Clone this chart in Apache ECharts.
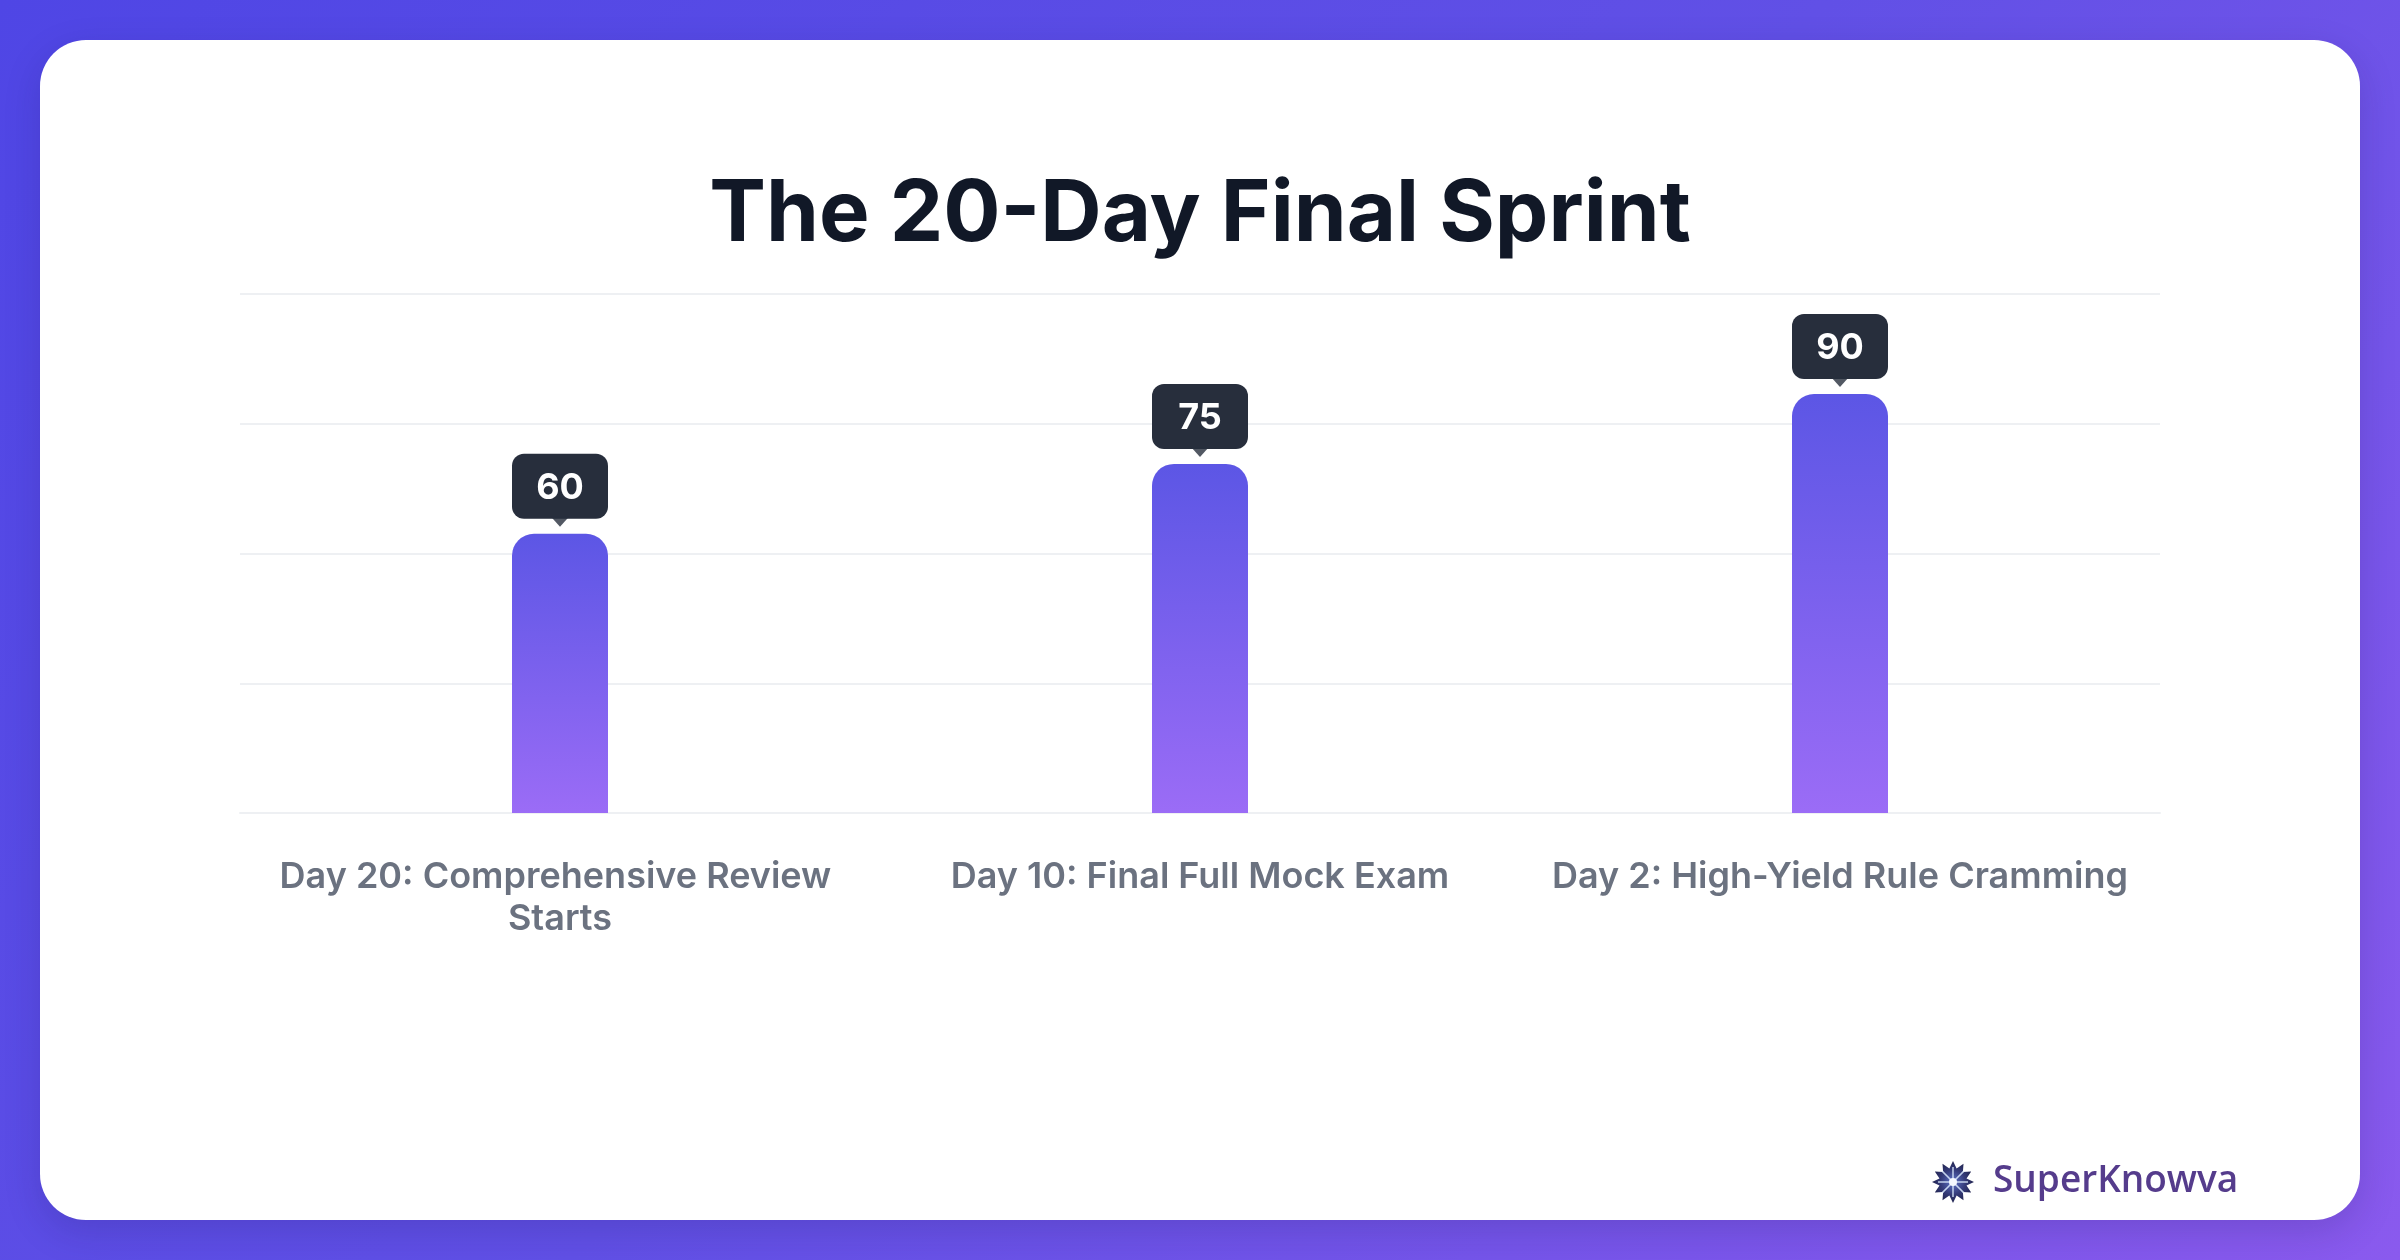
<!DOCTYPE html>
<html>
<head>
<meta charset="utf-8">
<title>The 20-Day Final Sprint</title>
<script src="https://cdn.jsdelivr.net/npm/echarts@6/dist/echarts.min.js"></script>
<style>
	html,body{margin:0;padding:0;}
	body{
		width:2400px;height:1260px;overflow:hidden;position:relative;
		background:linear-gradient(135deg,#4F46E5 0%,#6150E6 50%,#8A5AEE 100%);
	}
	.card{
		position:absolute;left:40px;top:40px;width:2320px;height:1180px;
		background:#fff;border-radius:46px;
		box-shadow:0 12px 36px rgba(30,20,90,0.18);
	}
	#chart{position:absolute;left:0;top:0;width:2400px;height:1260px;}
</style>
</head>
<body>
<div class="card"></div>
<div id="chart"></div>
<script>
var categories = ['Day 20: Comprehensive Review Starts','Day 10: Final Full Mock Exam','Day 2: High-Yield Rule Cramming'];
var values = [60, 75, 90];
var axisMax = 111.5;      // top gridline sits above 90
var axisStep = 27.875;

function starPoints(cx, cy, rOut, rIn, n){
	var pts = [];
	for(var i = 0; i < n * 2; i++){
		var r = i % 2 === 0 ? rOut : rIn;
		var a = Math.PI * i / n - Math.PI / 2;
		pts.push([cx + r * Math.cos(a), cy + r * Math.sin(a)]);
	}
	return pts;
}
function logoIcon(cx, cy){
	var items = [{
		type:'polygon',
		shape:{points:starPoints(cx,cy,21,14,12)},
		style:{
			fill:new echarts.graphic.RadialGradient(0.5,0.5,0.5,[
				{offset:0,color:'#5F74C8'},
				{offset:0.6,color:'#343A78'},
				{offset:1,color:'#22254F'}
			])
		}
	}];
	// light rays from the centre
	for(var i = 0; i < 8; i++){
		var a = Math.PI * i / 4;
		items.push({
			type:'line',
			shape:{x1:cx,y1:cy,x2:cx + 15 * Math.cos(a),y2:cy + 15 * Math.sin(a)},
			style:{stroke:'rgba(220,235,255,0.85)',lineWidth:1.5}
		});
	}
	items.push({
		type:'circle',
		shape:{cx:cx,cy:cy,r:4},
		style:{fill:'#F4F8FF'}
	});
	return items;
}

function drawChart(){
	var myChart = echarts.init(document.getElementById('chart'), null, {renderer:'canvas'});
	var font = 'Inter, "Noto Sans", sans-serif';
	myChart.setOption({
		backgroundColor:'transparent',
		animation:false,
		title:{
			text:'The 20-Day Final Sprint',
			left:'center',
			top:168,
			textStyle:{
				fontFamily:font,
				fontSize:85,
				fontWeight:'bold',
				color:'#111827'
			}
		},
		grid:{
			left:240,
			right:240,
			top:294,
			bottom:447,
			containLabel:false
		},
		xAxis:{
			type:'category',
			data:categories,
			axisLine:{
				show:true,
				lineStyle:{color:'#EEF0F3',width:2}
			},
			axisTick:{show:false},
			axisLabel:{
				interval:0,
				margin:43,
				fontFamily:font,
				fontSize:36,
				fontWeight:600,
				lineHeight:42,
				color:'#6B7280',
				width:620,
				overflow:'break',
				align:'center'
			}
		},
		yAxis:{
			type:'value',
			min:0,
			max:axisMax,
			interval:axisStep,
			axisLine:{show:false},
			axisTick:{show:false},
			axisLabel:{show:false},
			splitLine:{
				lineStyle:{color:'#EEF0F3',width:2}
			}
		},
		series:[
			{
				name:'score',
				type:'bar',
				data:values,
				barWidth:96,
				itemStyle:{
					borderRadius:[22,22,0,0],
					color:new echarts.graphic.LinearGradient(0,0,0,1,[
						{offset:0,color:'#5C56E5'},
						{offset:1,color:'#9B6CF6'}
					])
				},
				label:{
					show:true,
					position:'top',
					distance:15,
					fontFamily:font,
					fontSize:36,
					fontWeight:'bold',
					color:'#ffffff',
					lineHeight:37,
					backgroundColor:'#272E3C',
					borderRadius:12,
					padding:[16,0,12,0],
					width:96,
					align:'center'
				}
			},
			{
				name:'pointer',
				type:'scatter',
				data:values,
				symbol:'triangle',
				symbolRotate:180,
				symbolSize:[18,10],
				symbolOffset:[0,-12],
				itemStyle:{color:'#272E3C'},
				z:5,
				silent:true
			}
		],
		graphic:logoIcon(1953,1182).concat([
			{
				type:'text',
				left:1993,
				top:1163,
				style:{
					text:'SuperKnowva',
					fontFamily:'"Open Sans", "Noto Sans", sans-serif',
					fontSize:37,
					fontWeight:600,
					fill:'#553C8C'
				}
			}
		])
	});
}
drawChart();
</script>
</body>
</html>
